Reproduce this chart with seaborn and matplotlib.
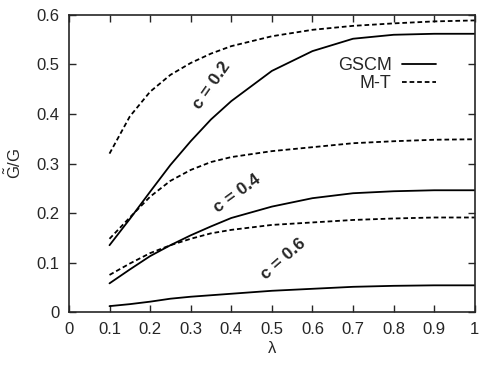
import numpy as np
import pandas as pd
import seaborn as sns
import matplotlib.pyplot as plt
from matplotlib.lines import Line2D

# --- valeurs ---
lam = [0.1, 0.15, 0.2, 0.25, 0.3, 0.35, 0.4, 0.5, 0.6, 0.7, 0.8, 0.9, 1.0]

gscm_02 = [0.135, 0.188, 0.243, 0.297, 0.345, 0.389, 0.426, 0.487, 0.527, 0.552, 0.560, 0.562, 0.562]
gscm_04 = [0.058, 0.086, 0.113, 0.135, 0.155, 0.173, 0.190, 0.213, 0.230, 0.240, 0.244, 0.246, 0.246]
gscm_06 = [0.012, 0.016, 0.021, 0.027, 0.031, 0.034, 0.037, 0.043, 0.047, 0.051, 0.053, 0.054, 0.054]

mt_02 = [0.320, 0.395, 0.445, 0.479, 0.503, 0.522, 0.537, 0.557, 0.570, 0.578, 0.583, 0.587, 0.589]
mt_04 = [0.148, 0.191, 0.233, 0.265, 0.287, 0.303, 0.313, 0.325, 0.333, 0.341, 0.345, 0.348, 0.349]
mt_06 = [0.075, 0.098, 0.119, 0.135, 0.148, 0.159, 0.166, 0.176, 0.181, 0.186, 0.189, 0.191, 0.191]

series = {
    ("GSCM", "0.2"): gscm_02, ("GSCM", "0.4"): gscm_04, ("GSCM", "0.6"): gscm_06,
    ("M-T", "0.2"): mt_02, ("M-T", "0.4"): mt_04, ("M-T", "0.6"): mt_06,
}
rows = []
for (model, c), vals in series.items():
    for l, v in zip(lam, vals):
        rows.append({"lam": l, "val": v, "model": model, "c": c})
df = pd.DataFrame(rows)

sns.set_style("ticks")
plt.rcParams["font.family"] = ["Liberation Sans", "DejaVu Sans"]
plt.rcParams["mathtext.fontset"] = "custom"
plt.rcParams["mathtext.rm"] = "Liberation Sans"
plt.rcParams["mathtext.it"] = "Liberation Sans"

fig = plt.figure(figsize=(4.82, 3.65), dpi=100)
ax = fig.add_axes([0.143, 0.145, 0.842, 0.814])

dash = (2.6, 1.6)
sns.lineplot(data=df, x="lam", y="val", units="c", estimator=None,
             style="model", dashes={"GSCM": "", "M-T": dash},
             color="black", linewidth=1.3, legend=False, ax=ax)

ax.set_xlim(0, 1)
ax.set_ylim(0, 0.6)
ax.set_xticks(np.arange(0, 1.01, 0.1))
ax.set_xticklabels(["0", "0.1", "0.2", "0.3", "0.4", "0.5", "0.6", "0.7", "0.8", "0.9", "1"])
ax.set_yticks(np.arange(0, 0.61, 0.1))
ax.set_yticklabels(["0", "0.1", "0.2", "0.3", "0.4", "0.5", "0.6"])
ax.tick_params(direction="in", length=5, width=1, top=True, right=True,
               labelsize=12, pad=7)
for s in ax.spines.values():
    s.set_linewidth(1.2)

ax.set_xlabel("λ", fontsize=12, labelpad=3)
ax.set_ylabel(r"$\tilde{\mathrm{G}}$/G", fontsize=12, labelpad=9)

# étiquettes des courbes
ax.text(0.352, 0.457, "c = 0.2", rotation=55, ha="center", va="center", fontsize=12.5, fontweight="bold")
ax.text(0.415, 0.240, "c = 0.4", rotation=36, ha="center", va="center", fontsize=12.5, fontweight="bold")
ax.text(0.529, 0.107, "c = 0.6", rotation=41, ha="center", va="center", fontsize=12.5, fontweight="bold")

handles = [Line2D([], [], color="black", lw=1.3),
           Line2D([], [], color="black", lw=1.3, dashes=dash)]
ax.legend(handles, ["GSCM", "M-T"], loc="upper right", bbox_to_anchor=(0.935, 0.9),
          frameon=False, markerfirst=False, fontsize=13, handlelength=1.85,
          handletextpad=0.6, labelspacing=0.05, borderpad=0.2)

fig.savefig("out.png", dpi=100)
